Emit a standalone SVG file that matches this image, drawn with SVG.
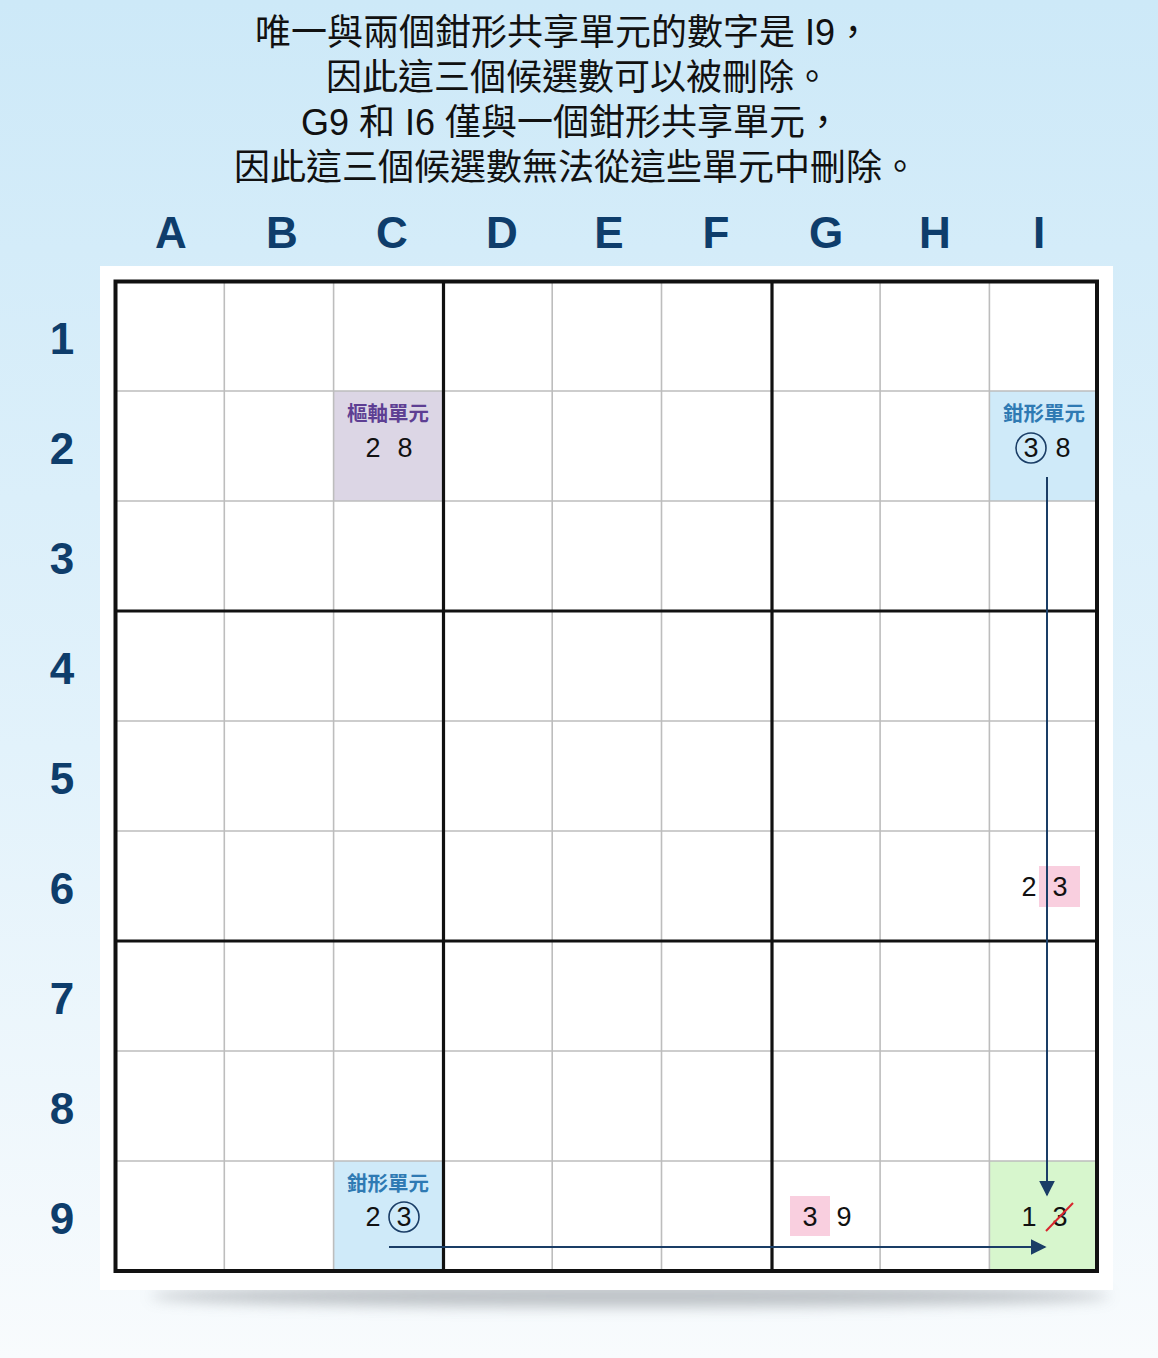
<svg xmlns="http://www.w3.org/2000/svg" width="1158" height="1358" viewBox="0 0 1158 1358">
<defs>
<linearGradient id="bg" x1="0" y1="0" x2="0" y2="1">
<stop offset="0" stop-color="#cde9f8"/>
<stop offset="0.55" stop-color="#e2f2fb"/>
<stop offset="1" stop-color="#f8fbfd"/>
</linearGradient>
<filter id="blur" x="-10%" y="-100%" width="120%" height="300%"><feGaussianBlur stdDeviation="7"/></filter>
<marker id="arrL" viewBox="0 0 10 10" refX="9" refY="5" markerWidth="16" markerHeight="16" markerUnits="userSpaceOnUse" orient="auto">
<path d="M0,0 L10,5 L0,10 Z" fill="#1a3d66"/>
</marker>
</defs>
<style>
.title{font-family:"Liberation Sans","Noto Sans CJK TC",sans-serif;font-size:36px;fill:#111;text-anchor:middle}
.col{font-family:"Liberation Sans",Arial,sans-serif;font-size:44px;font-weight:bold;fill:#0e3d6b;text-anchor:middle}
.thin{stroke:#bdbdbd;stroke-width:1.6}
.thick{stroke:#111;stroke-width:3.2}
.num{font-family:"Liberation Sans",Arial,sans-serif;font-size:27px;fill:#111;text-anchor:middle}
.lblP{font-family:"Noto Sans CJK TC",sans-serif;font-size:20.5px;font-weight:bold;fill:#5e3f93;text-anchor:middle}
.lblB{font-family:"Noto Sans CJK TC",sans-serif;font-size:20.5px;font-weight:bold;fill:#2f7ab3;text-anchor:middle}
.ring{fill:none;stroke:#1a3d66;stroke-width:1.6}
.conn{stroke:#1a3d66;stroke-width:2;fill:none}
</style>
<rect width="1158" height="1358" fill="url(#bg)"/>
<g id="title">
<text class="title" x="563" y="45">唯一與兩個鉗形共享單元的數字是 I9，</text>
<text class="title" x="578" y="90">因此這三個候選數可以被刪除。</text>
<text class="title" x="571" y="135">G9 和 I6 僅與一個鉗形共享單元，</text>
<text class="title" x="576" y="180">因此這三個候選數無法從這些單元中刪除。</text>
</g>
<g id="col-labels">
<text class="col" x="171" y="248">A</text>
<text class="col" x="282" y="248">B</text>
<text class="col" x="392" y="248">C</text>
<text class="col" x="502" y="248">D</text>
<text class="col" x="609" y="248">E</text>
<text class="col" x="716" y="248">F</text>
<text class="col" x="826" y="248">G</text>
<text class="col" x="935" y="248">H</text>
<text class="col" x="1039" y="248">I</text>
</g>
<g id="row-labels">
<text class="col" x="62" y="354">1</text>
<text class="col" x="62" y="464">2</text>
<text class="col" x="62" y="574">3</text>
<text class="col" x="62" y="684">4</text>
<text class="col" x="62" y="794">5</text>
<text class="col" x="62" y="904">6</text>
<text class="col" x="62" y="1014">7</text>
<text class="col" x="62" y="1124">8</text>
<text class="col" x="62" y="1234">9</text>
</g>
<ellipse cx="630" cy="1296" rx="480" ry="11" fill="#a9aeb3" opacity="0.75" filter="url(#blur)"/>
<rect id="panel" x="100" y="266" width="1013" height="1024" fill="#ffffff"/>
<g id="cell-C2">
<rect x="334" y="391" width="109" height="110" fill="#dcd6e5"/>
<text class="lblP" x="388" y="421">樞軸單元</text>
<text class="num" x="373" y="457">2</text>
<text class="num" x="405" y="457">8</text>
</g>
<g id="cell-I2">
<rect x="990" y="391" width="107" height="110" fill="#cfeaf9"/>
<text class="lblB" x="1044" y="421">鉗形單元</text>
<circle class="ring" cx="1031" cy="448" r="15"/>
<text class="num" x="1031" y="457">3</text>
<text class="num" x="1063" y="457">8</text>
</g>
<g id="cell-I6">
<rect x="1039" y="866" width="41" height="41" fill="#f9cfdf"/>
<text class="num" x="1029" y="896">2</text>
<text class="num" x="1060" y="896">3</text>
</g>
<g id="cell-C9">
<rect x="334" y="1161" width="109" height="110" fill="#cfeaf9"/>
<text class="lblB" x="388" y="1191">鉗形單元</text>
<text class="num" x="373" y="1226">2</text>
<circle class="ring" cx="404" cy="1217" r="15"/>
<text class="num" x="404" y="1226">3</text>
</g>
<g id="cell-G9">
<rect x="790" y="1196" width="40" height="40" fill="#f9cfdf"/>
<text class="num" x="810" y="1226">3</text>
<text class="num" x="844" y="1226">9</text>
</g>
<g id="cell-I9">
<rect x="990" y="1161" width="107" height="110" fill="#d7f6cd"/>
<text class="num" x="1029" y="1226">1</text>
<text class="num" x="1060" y="1226">3</text>
<line x1="1046" y1="1231" x2="1073" y2="1203" stroke="#d8262e" stroke-width="2"/>
</g>
<g id="grid">
<g class="thin">
<line x1="224.3" y1="281" x2="224.3" y2="1271"/>
<line x1="333.6" y1="281" x2="333.6" y2="1271"/>
<line x1="552.2" y1="281" x2="552.2" y2="1271"/>
<line x1="661.5" y1="281" x2="661.5" y2="1271"/>
<line x1="880.1" y1="281" x2="880.1" y2="1271"/>
<line x1="989.4" y1="281" x2="989.4" y2="1271"/>
<line x1="115" y1="391" x2="1097" y2="391"/>
<line x1="115" y1="501" x2="1097" y2="501"/>
<line x1="115" y1="721" x2="1097" y2="721"/>
<line x1="115" y1="831" x2="1097" y2="831"/>
<line x1="115" y1="1051" x2="1097" y2="1051"/>
<line x1="115" y1="1161" x2="1097" y2="1161"/>
</g>
<g class="thick">
<line x1="443.5" y1="281" x2="443.5" y2="1271"/>
<line x1="772" y1="281" x2="772" y2="1271"/>
<line x1="115" y1="611" x2="1097" y2="611"/>
<line x1="115" y1="941" x2="1097" y2="941"/>
</g>
<rect x="115.5" y="281.5" width="981.5" height="989.5" fill="none" stroke="#111" stroke-width="4"/>
</g>
<g id="connectors">
<line class="conn" x1="1047" y1="477" x2="1047" y2="1195" marker-end="url(#arrL)"/>
<line class="conn" x1="389" y1="1247" x2="1045" y2="1247" marker-end="url(#arrL)"/>
</g>
</svg>
